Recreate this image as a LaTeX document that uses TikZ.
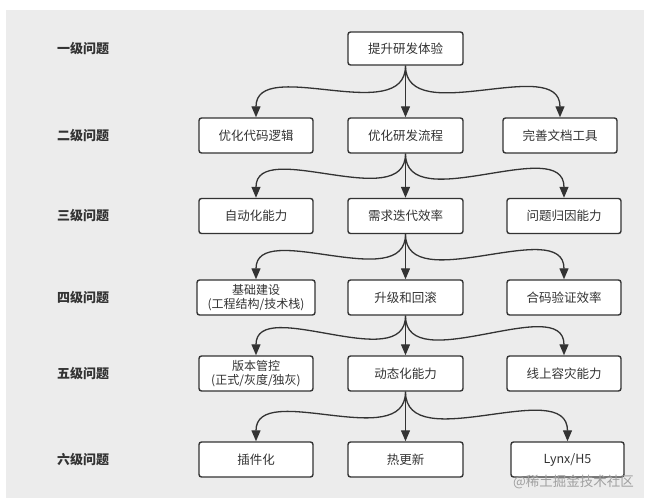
\documentclass[tikz,border=0pt]{standalone}
\usepackage{fontspec}
\setmainfont{Noto Sans CJK SC}
\usetikzlibrary{arrows.meta}
\definecolor{ink}{HTML}{333333}
\definecolor{bggray}{HTML}{ECECEC}
\definecolor{wmgray}{HTML}{A0A0A0}

\begin{document}
\begin{tikzpicture}[x=1pt,y=-1pt,
  box/.style={draw=ink,line width=1.4pt,rounded corners=2.5pt,fill=white,
    text=ink,font=\fontsize{12.5}{14}\selectfont,align=center,
    minimum width=114pt,minimum height=35pt,inner sep=0pt},
  lvl/.style={text=ink,font=\fontsize{13}{15}\selectfont\bfseries},
  arr/.style={draw=ink,line width=1.3pt,-{Triangle[length=11pt,width=9pt]}}]
% page and grey panel
\useasboundingbox (0,0) rectangle (649,504);
\fill[white] (0,0) rectangle (649,504);
\fill[bggray] (6,10) rectangle (644,498);
% level labels on the left
\foreach \y/\lab [count=\i] in {48.5/一级问题,135.5/二级问题,216/三级问题,297.5/四级问题,373.5/五级问题,459.5/六级问题}
  \node[lvl] (lv\i) at (83,\y) {\lab};
% row 1
\node[box,minimum width=115pt,minimum height=33pt] (r1b) at (405.5,48.5) {提升研发体验};
% row 2
\node[box] (r2a) at (256,135.5) {优化代码逻辑};
\node[box,minimum width=115pt] (r2b) at (405.5,135.5) {优化研发流程};
\node[box] (r2c) at (560,135.5) {完善文档工具};
% row 3
\node[box] (r3a) at (256,216) {自动化能力};
\node[box,minimum width=115pt] (r3b) at (405.5,216) {需求迭代效率};
\node[box] (r3c) at (564,216) {问题归因能力};
% row 4
\node[box,minimum width=118pt,font=\fontsize{12}{13.5}\selectfont] (r4a) at (256,297.5) {基础建设\\(工程结构/技术栈)};
\node[box,minimum width=115pt] (r4b) at (405.5,297.5) {升级和回滚};
\node[box] (r4c) at (564,297.5) {合码验证效率};
% row 5
\node[box,font=\fontsize{12}{13.5}\selectfont] (r5a) at (256,373.5) {版本管控\\(正式/灰度/独灰)};
\node[box,minimum width=115pt] (r5b) at (405.5,373.5) {动态化能力};
\node[box] (r5c) at (564,373.5) {线上容灾能力};
% row 6
\node[box] (r6a) at (256,459.5) {插件化};
\node[box,minimum width=115pt] (r6b) at (405.5,459.5) {热更新};
\node[box,minimum width=113pt] (r6c) at (567.5,459.5) {Lynx/H5};
% connectors: middle box of each row to the row below
\foreach \p/\q in {1/2,2/3,3/4,4/5,5/6} {
  \draw[arr] (r\p b.south) to[out=-90,in=90] (r\q a.north);
  \draw[arr] (r\p b.south) -- (r\q b.north);
  \draw[arr] (r\p b.south) to[out=-90,in=90] (r\q c.north);
}
% watermark
\node[text=wmgray,font=\fontsize{13.5}{15}\selectfont,anchor=east,inner sep=0pt] (wm) at (634,482) {@稀土掘金技术社区};
\end{tikzpicture}
\end{document}
